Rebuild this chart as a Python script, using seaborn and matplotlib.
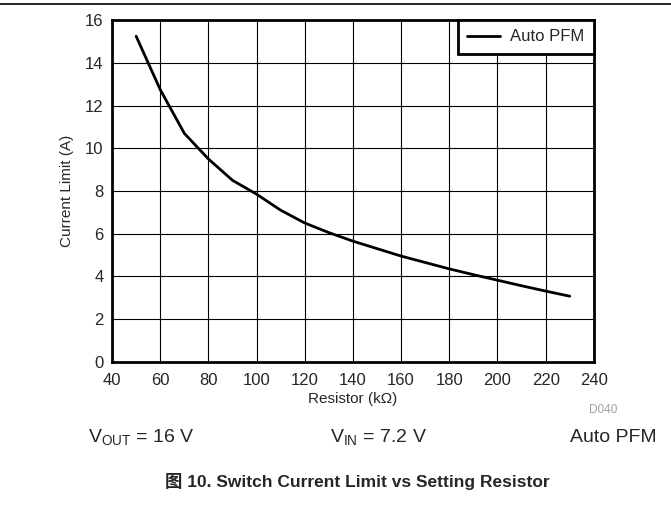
import matplotlib
matplotlib.use("Agg")
import matplotlib.pyplot as plt
import seaborn as sns
import pandas as pd

# values
resistor_kohm = [50, 60, 70, 80, 90, 100, 110, 120, 130, 140, 150, 160, 170, 180, 190, 200, 210, 220, 230]
current_limit = [15.25, 12.75, 10.7, 9.5, 8.5, 7.85, 7.1, 6.5, 6.05, 5.65, 5.3, 4.95, 4.65, 4.35, 4.08, 3.82, 3.56, 3.31, 3.07]
series_name = "Auto PFM"
x_ticks = list(range(40, 241, 20))
y_ticks = list(range(0, 17, 2))

sns.set_style("white")
plt.rcParams['font.family'] = ['Liberation Sans', 'Noto Sans CJK SC', 'DejaVu Sans']
plt.rcParams['mathtext.fontset'] = 'custom'
plt.rcParams['mathtext.rm'] = 'Liberation Sans'

df = pd.DataFrame({"Resistor": resistor_kohm, "Current": current_limit, "Mode": series_name})

fig = plt.figure(figsize=(6.71, 5.19), dpi=100)
ax = fig.add_axes([0.167, 0.303, 0.718, 0.658])

sns.lineplot(data=df, x="Resistor", y="Current", hue="Mode", palette=["black"],
             linewidth=2, ax=ax)

ax.set_xlim(40, 240)
ax.set_ylim(0, 16)
ax.set_xticks(x_ticks)
ax.set_yticks(y_ticks)
ax.tick_params(length=0, labelsize=12)
ax.tick_params(axis='x', pad=8)
ax.tick_params(axis='y', pad=6)
ax.grid(True, color='black', linewidth=0.8)
ax.set_axisbelow(True)
for s in ax.spines.values():
    s.set_color('black')
    s.set_linewidth(2)

ax.set_xlabel("Resistor (k\u03a9)", fontsize=11, labelpad=3)
ax.set_ylabel("Current Limit (A)", fontsize=11, labelpad=8)

leg = ax.legend(loc='upper right', fontsize=12, frameon=True, fancybox=False,
                borderaxespad=0, handlelength=2.0, borderpad=0.55, handletextpad=0.6)
leg.get_frame().set_edgecolor('black')
leg.get_frame().set_linewidth(2)
leg.get_frame().set_alpha(1)

# header rule
fig.add_artist(plt.Line2D([0, 1], [1 - 4 / 519, 1 - 4 / 519], color='black', linewidth=1.2,
                          transform=fig.transFigure))

fig.text(603 / 671, 1 - 410 / 519, "D040", fontsize=8.5, color='#a0a0a0', ha='center', va='center')
fig.text(88 / 671, 1 - 438 / 519, r"V$_{\mathregular{OUT}}$ = 16 V", fontsize=14, ha='left', va='center')
fig.text(330 / 671, 1 - 438 / 519, r"V$_{\mathregular{IN}}$ = 7.2 V", fontsize=14, ha='left', va='center')
fig.text(657 / 671, 1 - 438 / 519, "Auto PFM", fontsize=14, ha='right', va='center')
fig.text(357 / 671, 1 - 481 / 519, "图 10. Switch Current Limit vs Setting Resistor",
         fontsize=12.5, fontweight='bold', ha='center', va='center')

fig.savefig("out.png", dpi=100)
